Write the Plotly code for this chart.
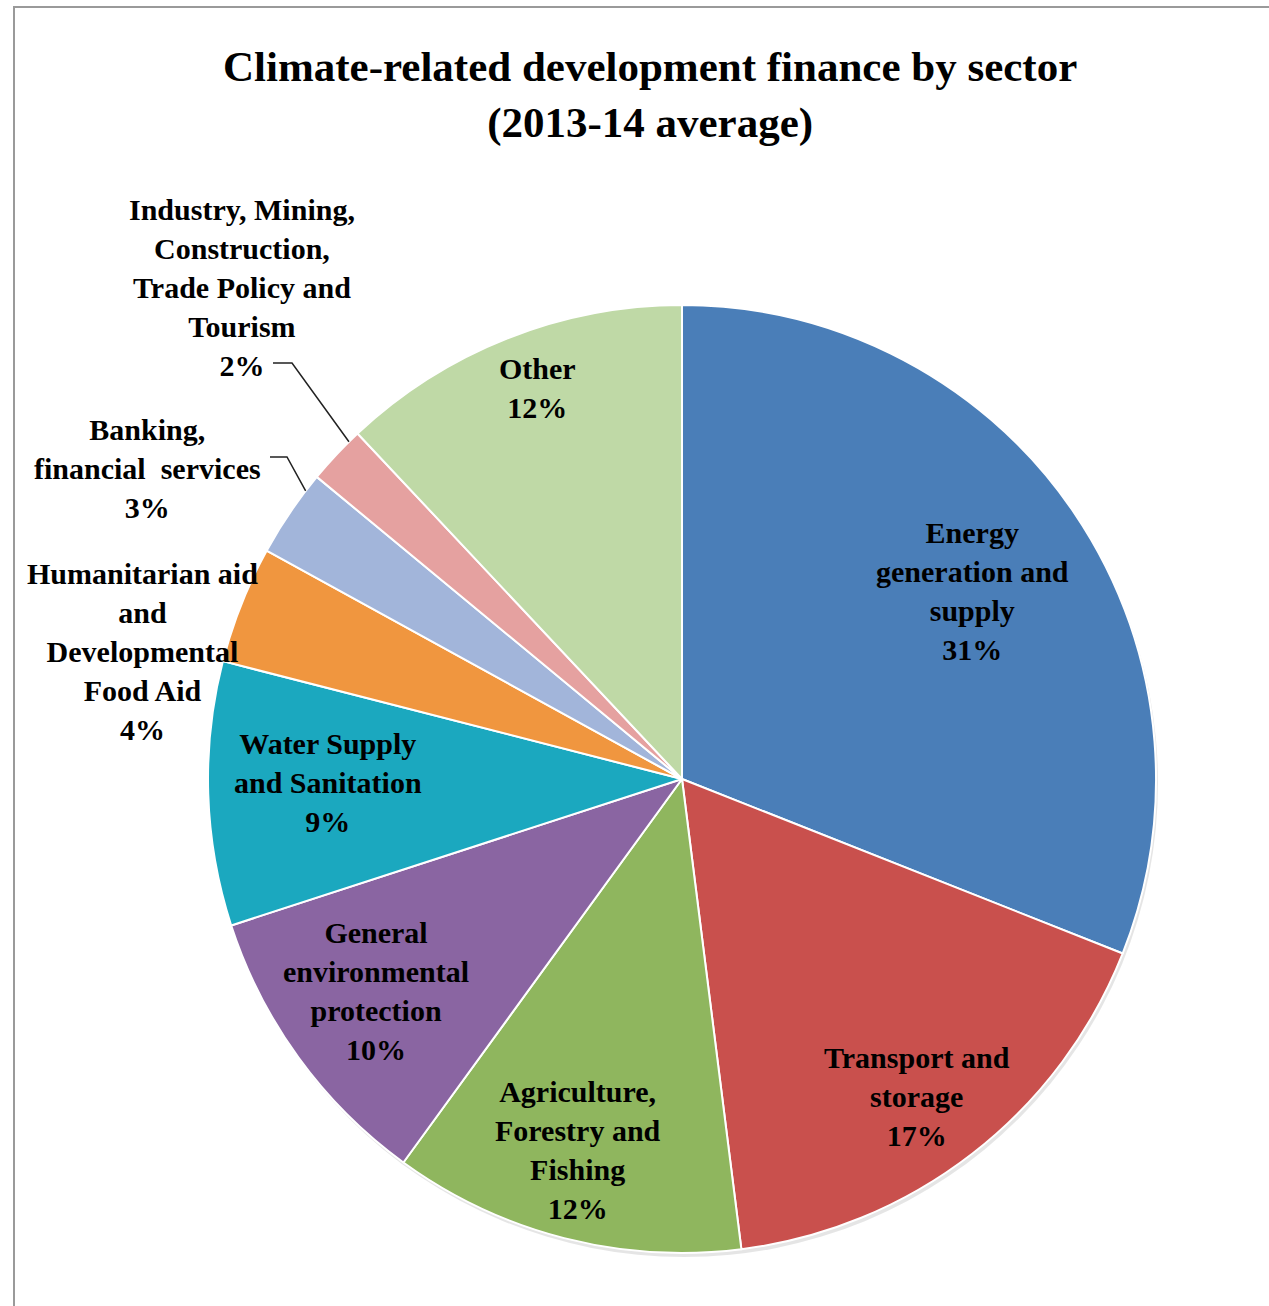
import math
import plotly.graph_objects as go

# ---- data ----
sectors = [
    "Energy<br>generation and<br>supply",
    "Transport and<br>storage",
    "Agriculture,<br>Forestry and<br>Fishing",
    "General<br>environmental<br>protection",
    "Water Supply<br>and Sanitation",
    "Humanitarian aid<br>and<br>Developmental<br>Food Aid",
    "Banking,<br>financial\u00a0 services",
    "Industry, Mining,<br>Construction,<br>Trade Policy and<br>Tourism",
    "Other",
]
shares = [31, 17, 12, 10, 9, 4, 3, 2, 12]
colors = ["#4A7EB8", "#C9504D", "#8FB65E", "#8A65A2", "#1BA8BF",
          "#F0963F", "#A2B5DA", "#E5A1A0", "#BFD9A6"]

# ---- page geometry (pixels) ----
PAGE_W, PAGE_H = 1269, 1306
CX, CY, R = 682, 779, 474          # pie centre and radius
PAD = 6                             # room around the pie for its shadow
S = 2 * R + 2 * PAD                 # square plot area
L, T = CX - R - PAD, CY - R - PAD
B = PAGE_H - T - S
RM = PAGE_W - L - S

FONT = "Liberation Serif, Times New Roman, serif"


def paper(x, y):
    """Pixel position on the page -> paper coordinates."""
    return (x - L) / S, 1 - (y - T) / S


def polar(angle_deg, frac):
    """Point at a clockwise angle from 12 o'clock, at frac of the radius."""
    a = math.radians(angle_deg)
    return CX + frac * R * math.sin(a), CY - frac * R * math.cos(a)


total = sum(shares)
starts, mids, ends = [], [], []
acc = 0
for v in shares:
    starts.append(acc / total * 360)
    mids.append((acc + v / 2) / total * 360)
    acc += v
    ends.append(acc / total * 360)

fig = go.Figure()

# soft drop shadow under the pie
sx, sy = 2, 4
fig.add_trace(go.Pie(
    values=[1], labels=["shadow"], sort=False,
    marker=dict(colors=["rgba(0,0,0,0.10)"], line=dict(width=0)),
    textinfo="none", hoverinfo="skip", showlegend=False,
    domain=dict(x=[(PAD + sx) / S, (PAD + 2 * R + sx) / S],
                y=[(PAD - sy) / S, (PAD + 2 * R - sy) / S]),
))

fig.add_trace(go.Pie(
    labels=sectors, values=shares, sort=False, direction="clockwise",
    rotation=0,
    marker=dict(colors=colors, line=dict(color="white", width=2)),
    textinfo="none", hoverinfo="label+percent", showlegend=False,
    domain=dict(x=[PAD / S, (PAD + 2 * R) / S],
                y=[PAD / S, (PAD + 2 * R) / S]),
))

annotations = []
shapes = []

label_font = dict(family=FONT, size=30, color="#000")

# labels drawn inside their slices (fraction of radius), None = outside
inside_frac = [0.73, 0.833, 0.814, 0.786, 0.747, None, None, None, 0.879]
LABEL_TURN = 1.3

# labels placed beside the pie (pixel centre of the text block)
outside_pos = {5: (142, 651), 6: (147, 468), 7: (242, 287)}
# leader lines: text-side elbow points, then a point on the slice edge
leader_start = {6: [(270, 457), (287, 457)], 7: [(273, 363), (292, 363)]}
LEADER_FRAC = 0.8

for i, (name, v) in enumerate(zip(sectors, shares)):
    text = f"<b>{name}<br>{v}%</b>"
    if inside_frac[i] is not None:
        px, py = polar(mids[i] + LABEL_TURN, inside_frac[i])
    else:
        px, py = outside_pos[i]
    x, y = paper(px, py)
    annotations.append(dict(
        text=text, x=x, y=y, xref="paper", yref="paper",
        xanchor="center", yanchor="middle", align="center",
        showarrow=False, font=label_font,
    ))
    if i in leader_start:
        ang = starts[i] + LEADER_FRAC * (ends[i] - starts[i])
        pts = leader_start[i] + [polar(ang, 1.0)]
        path = ""
        for k, (qx, qy) in enumerate(pts):
            ux, uy = paper(qx, qy)
            path += ("M" if k == 0 else " L") + f" {ux:.5f} {uy:.5f}"
        shapes.append(dict(type="path", path=path, xref="paper", yref="paper",
                           line=dict(color="#222", width=1.5)))

# chart title
tx, ty = paper(650, 95)
annotations.append(dict(
    text="<b>Climate-related development finance by sector<br>(2013-14 average)</b>",
    x=tx, y=ty, xref="paper", yref="paper", xanchor="center", yanchor="middle",
    align="center", showarrow=False,
    font=dict(family=FONT, size=43, color="#000"),
))

# chart frame (only its top and left edges fall inside the page)
fx0, fy0 = paper(14, 7)
fx1, fy1 = paper(PAGE_W + 20, PAGE_H + 20)
shapes.append(dict(type="rect", x0=fx0, y0=fy1, x1=fx1, y1=fy0,
                   xref="paper", yref="paper",
                   line=dict(color="#9a9a9a", width=2), layer="below"))

fig.update_layout(
    width=PAGE_W, height=PAGE_H,
    margin=dict(l=L, r=RM, t=T, b=B, autoexpand=False),
    paper_bgcolor="white", plot_bgcolor="white",
    annotations=annotations, shapes=shapes,
    showlegend=False,
)

fig.write_html("out.html")
